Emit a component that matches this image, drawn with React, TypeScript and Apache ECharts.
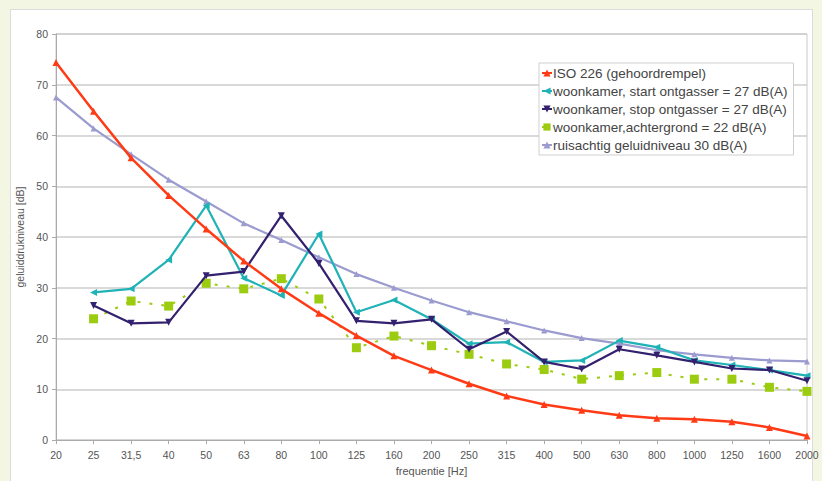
import React, { useEffect, useRef } from "react";
import * as echarts from "echarts";

const categories = ["20", "25", "31,5", "40", "50", "63", "80", "100", "125", "160", "200", "250", "315", "400", "500", "630", "800", "1000", "1250", "1600", "2000"];

const iso226 = [74.4, 64.8, 55.6, 48.2, 41.6, 35.3, 29.8, 25.0, 20.6, 16.6, 13.8, 11.1, 8.7, 7.0, 5.9, 4.9, 4.3, 4.1, 3.6, 2.5, 0.8];
const startOntgasser = [null, 29.1, 29.8, 35.5, 46.2, 31.9, 28.5, 40.6, 25.2, 27.6, 23.8, 19.0, 19.3, 15.4, 15.7, 19.6, 18.3, 15.7, 14.8, 13.8, 12.7];
const stopOntgasser = [null, 26.5, 23.0, 23.2, 32.4, 33.2, 44.2, 34.8, 23.5, 23.0, 23.8, 17.9, 21.4, 15.4, 14.0, 17.9, 16.7, 15.4, 14.1, 13.8, 11.7];
const achtergrond = [null, 23.9, 27.4, 26.4, 30.9, 29.8, 31.8, 27.8, 18.2, 20.5, 18.6, 16.9, 15.0, 13.9, 12.0, 12.7, 13.3, 12.0, 12.0, 10.4, 9.6];
const ruisachtig = [67.5, 61.4, 56.3, 51.3, 47.0, 42.7, 39.4, 36.0, 32.7, 30.0, 27.5, 25.2, 23.4, 21.6, 20.1, 19.0, 17.7, 16.9, 16.2, 15.7, 15.5];

const seriesNames = [
  "ISO 226 (gehoordrempel)",
  "woonkamer, start ontgasser = 27 dB(A)",
  "woonkamer, stop ontgasser = 27 dB(A)",
  "woonkamer,achtergrond = 22 dB(A)",
  "ruisachtig geluidniveau 30 dB(A)",
];

const FONT = "'Liberation Sans', Arial, sans-serif";

export default function App() {
  const ref = useRef<HTMLDivElement>(null);
  useEffect(() => {
    if (!ref.current) return;
    const chart = echarts.init(ref.current, undefined, { renderer: "svg" });
    chart.setOption({
      animation: false,
      backgroundColor: "transparent",
      textStyle: { fontFamily: FONT },
      grid: {
        left: 56, right: 15, top: 34, bottom: 35, containLabel: false,
        show: true, borderColor: "#c8c8c8", borderWidth: 1, backgroundColor: "transparent",
      },
      legend: {
        orient: "vertical",
        left: 539,
        top: 63,
        padding: [3, 6, 3, 2],
        itemGap: 4,
        itemWidth: 10,
        itemHeight: 9,
        backgroundColor: "#ffffff",
        borderColor: "#cfcfcf",
        borderWidth: 1,
        textStyle: { fontSize: 13.5, color: "#444", fontFamily: FONT, padding: [0, 0, 0, -4] },
        data: seriesNames,
      },
      xAxis: {
        type: "category",
        data: categories,
        boundaryGap: false,
        name: "frequentie [Hz]",
        nameLocation: "middle",
        nameGap: 21,
        nameTextStyle: { fontSize: 11, color: "#555" },
        axisLine: { lineStyle: { color: "#aaa" } },
        axisTick: { show: true, length: 4, lineStyle: { color: "#aaa" } },
        axisLabel: { fontSize: 10.5, color: "#555", margin: 9 },
        splitLine: { show: false },
      },
      yAxis: {
        type: "value",
        min: 0,
        max: 80,
        interval: 10,
        name: "geluiddrukniveau [dB]",
        nameLocation: "middle",
        nameGap: 21,
        nameTextStyle: { fontSize: 10.5, color: "#555" },
        axisLine: { show: true, lineStyle: { color: "#aaa" } },
        axisTick: { show: true, length: 4, lineStyle: { color: "#aaa" } },
        axisLabel: { fontSize: 10.5, color: "#555", margin: 8 },
        splitLine: { show: true, lineStyle: { color: "#cccccc", width: 1.5 } },
      },
      series: [
        {
          name: seriesNames[0],
          type: "line",
          data: iso226,
          color: "#ff3b16",
          lineStyle: { width: 2.5 },
          symbol: "triangle",
          symbolSize: 7,
          z: 5,
        },
        {
          name: seriesNames[1],
          type: "line",
          data: startOntgasser,
          color: "#1fb2b6",
          lineStyle: { width: 2.2 },
          symbol: "triangle",
          symbolRotate: 90,
          symbolSize: 7,
          z: 3,
        },
        {
          name: seriesNames[2],
          type: "line",
          data: stopOntgasser,
          color: "#33206e",
          lineStyle: { width: 2.2 },
          symbol: "triangle",
          symbolRotate: 180,
          symbolSize: 7,
          z: 4,
        },
        {
          name: seriesNames[3],
          type: "line",
          data: achtergrond,
          color: "#9ccc10",
          lineStyle: { width: 2, type: [3, 9] },
          symbol: "rect",
          symbolSize: 9,
          z: 2,
        },
        {
          name: seriesNames[4],
          type: "line",
          data: ruisachtig,
          color: "#9b9bd0",
          lineStyle: { width: 2.2 },
          symbol: "triangle",
          symbolSize: 6,
          z: 1,
        },
      ],
    });
    return () => chart.dispose();
  }, []);

  return (
    <div style={{ position: "fixed", left: 0, top: 0, width: 822, height: 481, background: "#f2f6e2", overflow: "hidden" }}>
      <div style={{ position: "absolute", left: 10, top: 9, width: 803, height: 480, background: "#ffffff", border: "1px solid #dcdcdc", boxSizing: "border-box" }} />
      <div ref={ref} style={{ position: "absolute", left: 0, top: 0, width: 822, height: 481 }} />
    </div>
  );
}
